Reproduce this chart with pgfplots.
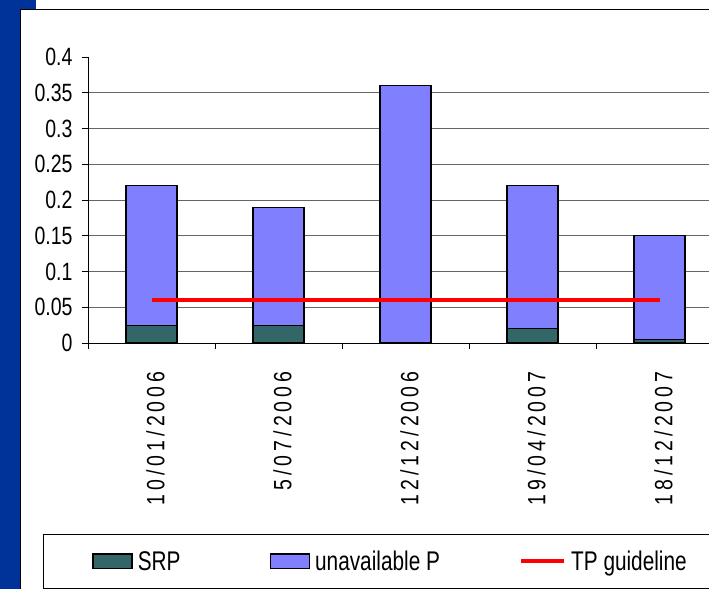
\documentclass[border=0pt]{standalone}
\usepackage{pgfplots}
\pgfplotsset{compat=1.18}
\usepackage{fontspec}
\setmainfont{Liberation Sans}[FakeStretch=0.78]
\newfontfamily\datefont{Liberation Sans}[FakeStretch=0.78,LetterSpace=16]
\newfontfamily\legfont{Liberation Sans}[FakeStretch=0.77]
\definecolor{bgblue}{RGB}{0,51,153}
\definecolor{srp}{RGB}{51,102,102}
\definecolor{unav}{RGB}{128,128,255}
\definecolor{gridgray}{RGB}{100,100,100}
\begin{document}
\begin{tikzpicture}[x=1pt,y=1pt]
\fill[white] (0,0) rectangle (709,589);
\fill[bgblue] (0,0) rectangle (20,589);
\fill[bgblue] (0,579) rectangle (36,589);
\draw[black,line width=1pt] (20,0) -- (20,579.5) -- (709,579.5);
\begin{axis}[
  at={(88pt,246pt)}, anchor=south west,
  scale only axis, width=635pt, height=286pt,
  xmin=-0.5, xmax=4.5, ymin=0, ymax=0.4,
  ybar stacked, bar width=51pt,
  axis x line*=bottom, axis y line*=left,
  axis line style={-, black, line width=0.8pt},
  tick align=outside, major tick length=6pt,
  tick style={black, line width=0.8pt},
  ytick={0,0.05,0.1,0.15,0.2,0.25,0.3,0.35},
  yticklabels={0,0.05,0.1,0.15,0.2,0.25,0.3,0.35},
  extra y ticks={0.4}, extra y tick labels={0.4},
  extra y tick style={grid=none},
  ymajorgrids, grid style={gridgray, line width=0.8pt},
  xtick={-0.5,0.5,1.5,2.5,3.5,4.5}, xticklabels={},
  extra x ticks={0,1,2,3,4},
  extra x tick labels={10/01/2006,5/07/2006,12/12/2006,19/04/2007,18/12/2007},
  extra x tick style={major tick length=0pt, grid=none},
  xticklabel style={yshift=-25pt, xshift=4pt, rotate=90, anchor=east, font=\datefont\fontsize{25}{30}\selectfont},
  yticklabel style={xshift=-6pt, font=\fontsize{25}{30}\selectfont},
  legend columns=3,
  legend style={at={(-0.0709,-0.668)}, anchor=north west, draw=black, line width=0.8pt,
    font=\legfont\fontsize{27}{32}\selectfont, inner xsep=49pt, inner ysep=13.5pt,
    nodes={inner sep=3pt},
    /tikz/every even column/.append style={column sep=0pt}},
  clip=false,
]
\addplot[fill=srp, draw=black, line width=1.2pt,
  legend image code/.code={\draw[fill=srp, draw=black, line width=1.4pt] (0pt,-7.3pt) rectangle (39pt,7.3pt);}]
  coordinates {(0,0.025) (1,0.025) (2,0) (3,0.02) (4,0.005)};
\addlegendentry{\makebox[131pt][l]{\hspace{2pt}SRP}}
\addplot[fill=unav, draw=black, line width=1.2pt,
  legend image code/.code={\draw[fill=unav, draw=black, line width=1.4pt] (0pt,-7.3pt) rectangle (39pt,7.3pt);}]
  coordinates {(0,0.195) (1,0.165) (2,0.36) (3,0.2) (4,0.145)};
\addlegendentry{\makebox[203pt][l]{\hspace{2pt}unavailable P}}
\addlegendimage{legend image code/.code={\draw[red, line width=4pt] (0pt,0pt) -- (43pt,0pt);}}
\addlegendentry{\makebox[200pt][l]{\hspace{2pt}TP guideline}}
\end{axis}
\begin{axis}[
  at={(88pt,246pt)}, anchor=south west,
  scale only axis, width=635pt, height=286pt,
  xmin=-0.5, xmax=4.5, ymin=0, ymax=0.4,
  hide axis, clip=false,
]
\addplot[red, line width=4pt, mark=none] coordinates {(0,0.06) (4,0.06)};
\end{axis}
\pgfresetboundingbox
\useasboundingbox (0,0) rectangle (709,589);
\end{tikzpicture}
\end{document}
